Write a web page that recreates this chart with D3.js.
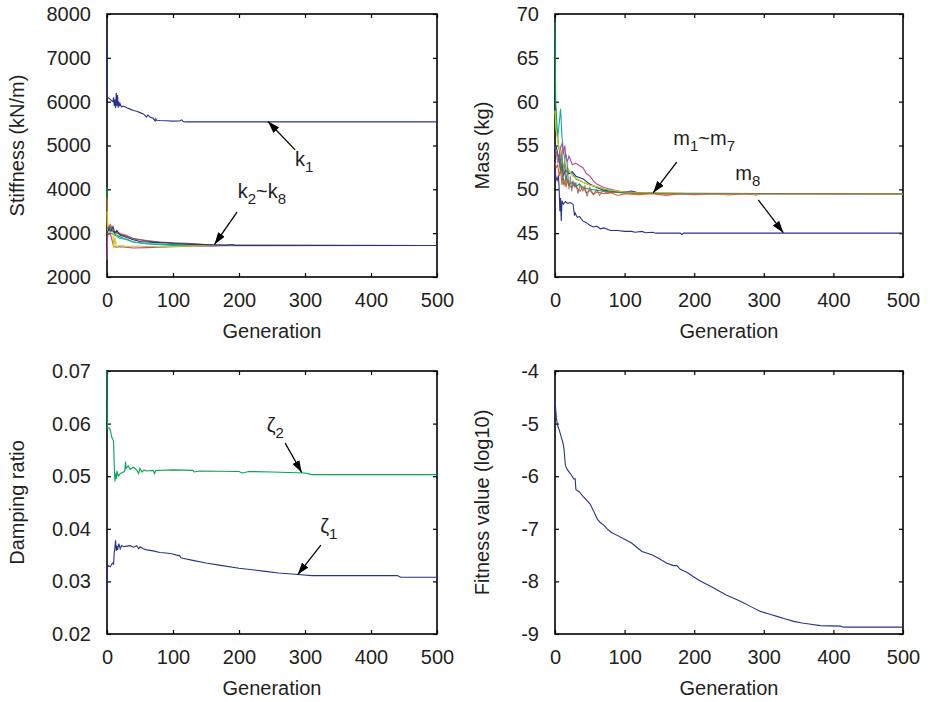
<!DOCTYPE html>
<html>
<head>
<meta charset="utf-8">
<script src="https://cdn.jsdelivr.net/npm/d3@7"></script>
<style>
  body { margin: 0; background: #fff; }
  text { font-family: "Liberation Sans", Arial, Helvetica, sans-serif; }
</style>
</head>
<body>
<svg width="930" height="702"></svg>
<script>
// generation axis, shared by the 4 panels
var genTicks = [0, 100, 200, 300, 400, 500];

// ---- stiffness (kN/m) ----
var stiffTicks = [2000, 3000, 4000, 5000, 6000, 7000, 8000];
var k1 = [[0,7500],[0.5,6100],[3,6080],[5,6050],[7,6020],[9,6000],[10,6100],[11,5900],[12,6050],[13,5850],[14,6200],[15,5900],[16,6150],[17,5860],[18,6000],[19,5900],[20,5950],[22,5880],[25,5900],[30,5860],[35,5830],[40,5800],[45,5780],[50,5750],[55,5720],[58,5680],[60,5650],[62,5700],[65,5650],[70,5620],[73,5560],[74,5610],[75,5575],[80,5570],[90,5565],[100,5555],[110,5560],[113,5585],[116,5545],[120,5540],[500,5540]];
var k2 = [[0,3000],[3,3100],[6,3050],[9,3150],[12,3000],[15,3060],[20,2950],[30,2900],[40,2850],[50,2810],[70,2790],[90,2780],[110,2760],[130,2745],[150,2735],[170,2730],[180,2722],[190,2740],[195,2720],[500,2720]];
var k3 = [[0,4050],[1,3050],[5,3150],[10,3000],[15,2950],[25,2880],[40,2800],[60,2760],[80,2750],[100,2740],[130,2730],[160,2720],[500,2720]];
var k4 = [[0,3800],[1,3100],[5,3200],[10,3050],[20,2990],[30,2950],[40,2870],[60,2820],[80,2790],[100,2765],[130,2745],[160,2725],[500,2720]];
var k5 = [[0,3300],[2,3100],[6,3000],[12,2950],[20,2880],[30,2860],[40,2800],[60,2760],[80,2735],[100,2722],[500,2720]];
var k6 = [[0,2400],[1,2950],[5,3000],[10,2700],[14,2680],[20,2690],[40,2660],[60,2670],[80,2680],[100,2690],[130,2700],[160,2705],[175,2715],[500,2720]];
var k7 = [[0,3500],[1,3000],[9,3050],[10,2650],[12,2900],[14,2700],[20,2720],[30,2700],[50,2700],[80,2690],[110,2700],[140,2710],[170,2720],[500,2720]];
var k8 = [[0,3100],[4,3150],[8,3050],[15,3000],[25,2950],[40,2880],[60,2830],[80,2800],[100,2780],[120,2770],[140,2750],[160,2730],[175,2725],[500,2720]];

// ---- mass (kg) ----
var massTicks = [40, 45, 50, 55, 60, 65, 70];
var m1 = [[0,55],[2,54.8],[4,54],[6,53.5],[8,52],[10,53],[12,51.5],[15,52.2],[20,51.8],[25,52],[30,51.5],[40,51.2],[50,50.6],[60,50.2],[70,49.9],[80,49.8],[100,49.7],[110,49.8],[120,49.6],[140,49.6],[150,49.5],[500,49.5]];
var m2 = [[0,69],[1,60],[3,57],[5,55],[7,54],[9,52.5],[11,51],[13,50.5],[16,51.5],[20,50.5],[25,50.8],[30,50.3],[35,50.6],[40,50.2],[50,50],[60,49.9],[80,49.7],[100,49.6],[130,49.55],[160,49.5],[500,49.5]];
var m3 = [[0,53],[2,52.5],[4,52.8],[6,51.5],[8,52.3],[10,50.5],[12,51.2],[14,50.8],[16,50.3],[18,51],[20,50.5],[24,50.2],[28,50.7],[32,50.1],[36,49.8],[40,50.3],[45,49.6],[50,49.9],[55,49.4],[60,49.7],[70,49.5],[80,49.6],[90,49.3],[100,49.5],[120,49.4],[140,49.5],[160,49.3],[180,49.5],[200,49.4],[230,49.5],[250,49.35],[270,49.5],[290,49.35],[295,49.5],[500,49.5]];
var m4 = [[0,59],[2,57],[4,56],[6,57.5],[8,59.2],[10,56],[12,54.5],[14,53.5],[16,54],[18,52.5],[20,52],[25,51.8],[30,51.2],[40,50.8],[50,50.5],[60,50.3],[70,50],[80,49.9],[90,49.8],[100,49.7],[120,49.6],[150,49.55],[500,49.5]];
var m5 = [[0,54],[3,54.2],[6,53],[8,54.8],[10,55.2],[12,54],[14,55],[16,53.5],[18,53.2],[20,53.8],[25,52.8],[30,53],[35,52.7],[40,52.5],[45,51.8],[50,51.5],[55,51],[60,50.6],[65,50.4],[70,50.2],[80,50],[90,49.8],[100,49.7],[120,49.6],[150,49.5],[500,49.5]];
var m6 = [[0,59],[1,57],[3,56],[5,55],[7,54.5],[9,54],[11,53],[13,52.5],[15,52.8],[18,52],[20,52.2],[25,51.5],[30,51.3],[40,50.8],[50,50.5],[60,50.3],[70,50.1],[80,49.9],[100,49.7],[120,49.6],[150,49.6],[180,49.55],[200,49.5],[500,49.5]];
var m7 = [[0,55],[2,54],[4,53],[6,54],[8,52],[10,54.5],[12,51],[14,53.5],[16,50.5],[18,52.5],[20,50],[22,51.5],[24,49.8],[26,51],[28,50.2],[30,50.8],[33,49.5],[36,50.5],[40,49.8],[43,50.4],[46,49.2],[50,50.2],[55,49.4],[60,50],[64,49.3],[68,49.8],[75,49.6],[85,49.7],[100,49.6],[130,49.55],[500,49.5]];
var m8 = [[0,52.8],[1,51.5],[3,51],[5,51.6],[6,50],[7,47.5],[8,49],[9,46.4],[10,48.7],[12,48.3],[15,48.6],[18,48.4],[22,48.5],[26,48.3],[28,47],[29,47.3],[32,46.8],[35,46.9],[40,46.4],[45,46.2],[50,45.9],[55,45.7],[60,45.8],[65,45.5],[70,45.6],[80,45.3],[90,45.3],[100,45.2],[110,45.2],[115,45.1],[125,45.2],[130,45.05],[140,45.1],[145,45],[180,45],[182,44.85],[185,45],[500,45]];

// ---- damping ratio ----
var dampTicks = [0.02, 0.03, 0.04, 0.05, 0.06, 0.07];
var zeta1 = [[0,0.028],[0.5,0.0325],[2,0.033],[5,0.0328],[8,0.0335],[10,0.0333],[11,0.0355],[12,0.0365],[13,0.0378],[14,0.0358],[15,0.0368],[16,0.0360],[18,0.0372],[20,0.0362],[22,0.0368],[25,0.0366],[30,0.0367],[35,0.0368],[40,0.0365],[45,0.0368],[48,0.0362],[50,0.0366],[55,0.0362],[60,0.0360],[70,0.0358],[80,0.0355],[90,0.0354],[100,0.0352],[105,0.0350],[110,0.0349],[112,0.0345],[115,0.0344],[130,0.0340],[150,0.0335],[170,0.0331],[200,0.0325],[220,0.0322],[240,0.0319],[260,0.0316],[290,0.0313],[310,0.0311],[440,0.0311],[445,0.0308],[500,0.0308]];
var zeta2 = [[0,0.070],[0.5,0.059],[3,0.0592],[5,0.0588],[7,0.0575],[9,0.0570],[10,0.0565],[11,0.0520],[12,0.0490],[13,0.0505],[14,0.0495],[15,0.0510],[17,0.0500],[20,0.0505],[24,0.0507],[27,0.0510],[28,0.0528],[29,0.0515],[32,0.0520],[35,0.0513],[40,0.0517],[45,0.0512],[48,0.0505],[50,0.0515],[53,0.0508],[56,0.0512],[60,0.0510],[70,0.0511],[72,0.0505],[74,0.0511],[100,0.0512],[130,0.0511],[132,0.0508],[140,0.0510],[200,0.0509],[205,0.0506],[215,0.0509],[250,0.0508],[300,0.0506],[310,0.0503],[500,0.0503]];

// ---- fitness (log10) ----
var fitTicks = [-9, -8, -7, -6, -5, -4];
var fitness = [[0,-4.55],[2,-4.9],[4,-5.05],[6,-5.12],[10,-5.3],[12,-5.4],[13,-5.5],[15,-5.8],[18,-5.88],[22,-5.95],[27,-6.05],[29,-6.05],[30,-6.25],[35,-6.3],[40,-6.38],[45,-6.45],[50,-6.52],[55,-6.65],[61,-6.82],[65,-6.88],[70,-6.93],[75,-7.0],[80,-7.06],[90,-7.13],[100,-7.2],[110,-7.27],[120,-7.38],[125,-7.43],[140,-7.5],[150,-7.57],[160,-7.65],[170,-7.7],[175,-7.7],[180,-7.77],[190,-7.83],[200,-7.92],[210,-8.0],[220,-8.07],[230,-8.14],[246,-8.26],[260,-8.34],[270,-8.4],[280,-8.47],[295,-8.57],[310,-8.63],[320,-8.67],[330,-8.71],[343,-8.76],[355,-8.79],[365,-8.81],[381,-8.84],[410,-8.85],[415,-8.87],[500,-8.87]];

var blue = "#27348b", green = "#00a651", red = "#f15a24", cyan = "#12ada5",
    magenta = "#b5489c", yellow = "#cfcc00", gray = "#666666";

var svg = d3.select("svg");

svg.append("defs").append("marker")
    .attr("id", "arrow")
    .attr("markerUnits", "userSpaceOnUse")
    .attr("markerWidth", 13).attr("markerHeight", 8)
    .attr("refX", 12).attr("refY", 4)
    .attr("orient", "auto")
  .append("path")
    .attr("d", "M0,0L12,4L0,8Z")
    .attr("fill", "#000");

var panels = [
  { left: 107, right: 437, top: 14, bottom: 277, domain: [2000, 8000], ticks: stiffTicks,
    fmt: d3.format("d"), label: "Stiffness (kN/m)", labelX: 24,
    series: [[k3, green], [k4, red], [k5, cyan], [k6, magenta], [k7, yellow], [k8, gray], [k2, blue], [k1, blue]],
    notes: [
      { parts: [["k", "1"]], at: [285, 4530], tail: [285, 4900], head: [244, 5548] },
      { parts: [["k", "2"], ["~"], ["k", "8"]], at: [198, 3800], tail: [197, 3480], head: [163, 2745] }
    ] },
  { left: 555, right: 903, top: 14, bottom: 277, domain: [40, 70], ticks: massTicks,
    fmt: d3.format("d"), label: "Mass (kg)", labelX: 489,
    series: [[m1, blue], [m2, green], [m3, red], [m4, cyan], [m5, magenta], [m6, yellow], [m7, gray, 0.75], [m8, blue]],
    notes: [
      { parts: [["m", "1"], ["~"], ["m", "7"]], at: [170, 55.05], tail: [175, 53.1], head: [141, 49.6] },
      { parts: [["m", "8"]], at: [259, 51.05], tail: [292, 48.8], head: [328, 45.05] }
    ] },
  { left: 107, right: 437, top: 371, bottom: 634, domain: [0.02, 0.07], ticks: dampTicks,
    fmt: d3.format(".2f"), label: "Damping ratio", labelX: 24,
    series: [[zeta2, green], [zeta1, blue]],
    notes: [
      { parts: [["ζ", "2"]], at: [242, 0.0584], tail: [270, 0.0563], head: [295, 0.0507] },
      { parts: [["ζ", "1"]], at: [323, 0.0392], tail: [324, 0.0369], head: [289, 0.0313] }
    ] },
  { left: 555, right: 903, top: 371, bottom: 634, domain: [-9, -4], ticks: fitTicks,
    fmt: function(d) { return String(d); }, label: "Fitness value (log10)", labelX: 489,
    series: [[fitness, blue]],
    notes: [] }
];

panels.forEach(function(p) {
  var x = d3.scaleLinear().domain([0, 500]).range([p.left, p.right]);
  var y = d3.scaleLinear().domain(p.domain).range([p.bottom, p.top]);
  var g = svg.append("g");

  // axes, ticks pointing in, on all four sides
  var axes = [
    [d3.axisBottom(x).tickValues(genTicks), "translate(0," + p.bottom + ")"],
    [d3.axisTop(x).tickValues(genTicks).tickFormat(""), "translate(0," + p.top + ")"],
    [d3.axisLeft(y).tickValues(p.ticks).tickFormat(p.fmt), "translate(" + p.left + ",0)"],
    [d3.axisRight(y).tickValues(p.ticks).tickFormat(""), "translate(" + p.right + ",0)"]
  ];
  axes.forEach(function(a) {
    var ax = g.append("g")
        .attr("transform", a[1])
        .call(a[0].tickSizeInner(-4).tickSizeOuter(0).tickPadding(16));
    ax.select(".domain").remove();
    ax.selectAll("line").attr("stroke", "#000").attr("stroke-width", 1.2);
    ax.attr("font-size", 20).attr("font-family", null);
    ax.selectAll("text").attr("fill", "#231f20");
    ax.selectAll("text").filter(function() { return this.textContent === ""; }).remove();
  });

  g.append("rect")
      .attr("x", p.left).attr("y", p.top)
      .attr("width", p.right - p.left).attr("height", p.bottom - p.top)
      .attr("fill", "none")
      .attr("stroke", "#000")
      .attr("stroke-width", 1.6);

  // lines drawn over the box, like the original
  var line = d3.line()
      .x(function(d) { return x(d[0]); })
      .y(function(d) { return y(d[1]); });

  g.selectAll("path.series")
    .data(p.series)
    .enter().append("path")
      .attr("class", "series")
      .attr("d", function(s) { return line(s[0]); })
      .attr("fill", "none")
      .attr("stroke", function(s) { return s[1]; })
      .attr("stroke-opacity", function(s) { return s[2] || 1; })
      .attr("stroke-width", 1.1);

  g.append("text")
      .attr("x", (p.left + p.right) / 2)
      .attr("y", p.bottom + 61)
      .attr("text-anchor", "middle")
      .attr("font-size", 20)
      .attr("fill", "#231f20")
      .text("Generation");

  g.append("text")
      .attr("transform", "translate(" + p.labelX + "," + (p.top + p.bottom) / 2 + ") rotate(-90)")
      .attr("text-anchor", "middle")
      .attr("font-size", 20)
      .attr("fill", "#231f20")
      .text(p.label);

  p.notes.forEach(function(n) {
    g.append("line")
        .attr("x1", x(n.tail[0])).attr("y1", y(n.tail[1]))
        .attr("x2", x(n.head[0])).attr("y2", y(n.head[1]))
        .attr("stroke", "#000")
        .attr("stroke-width", 1.3)
        .attr("marker-end", "url(#arrow)");

    var t = g.append("text")
        .attr("x", x(n.at[0]))
        .attr("y", y(n.at[1]))
        .attr("font-size", 20)
        .attr("fill", "#231f20");
    var lowered = false;
    n.parts.forEach(function(part) {
      t.append("tspan").attr("dy", lowered ? -6 : null).text(part[0]);
      lowered = false;
      if (part[1]) {
        t.append("tspan").attr("font-size", 15).attr("dy", 6).text(part[1]);
        lowered = true;
      }
    });
  });
});
</script>
</body>
</html>
